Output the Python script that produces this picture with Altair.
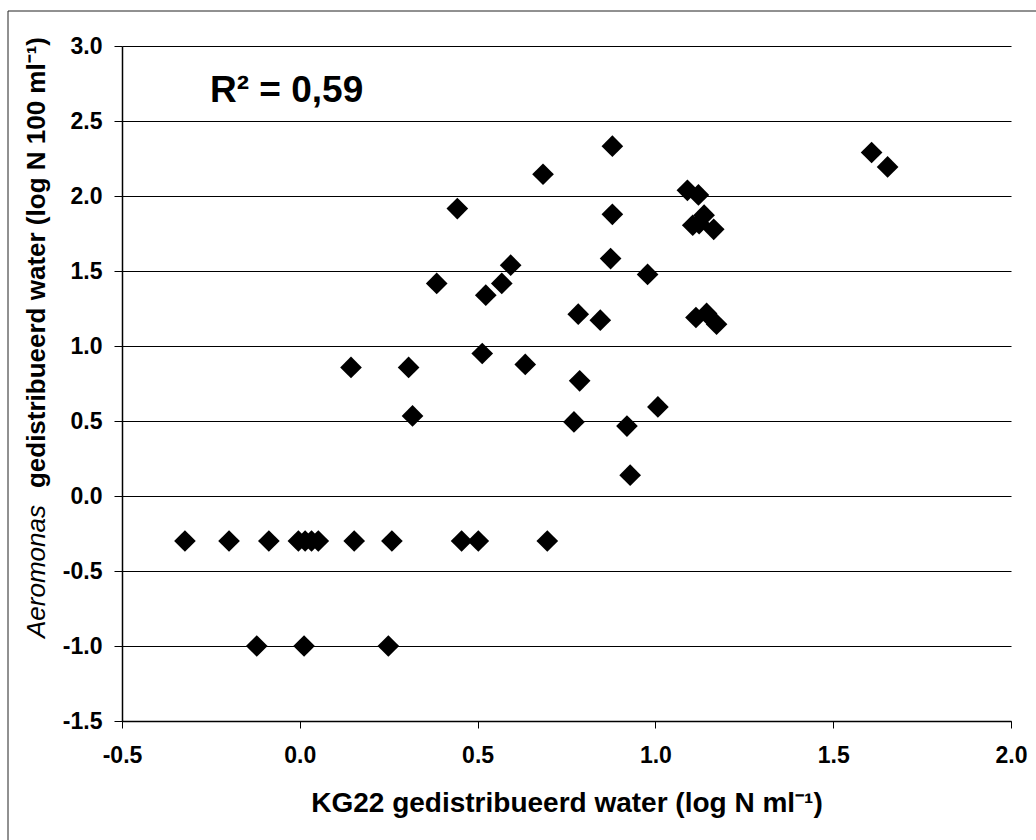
import altair as alt
import pandas as pd

# KG22 (log N/ml) values
kg22 = [-0.323, -0.199, -0.087, -0.004, 0.015, 0.033, 0.052, 0.153, 0.259, 0.455, 0.502, 0.696,
        -0.121, 0.012, 0.249,
        0.317, 0.144, 0.306, 0.443, 0.385, 0.523, 0.568, 0.593, 0.513, 0.879,
        0.684, 1.608, 1.653, 1.090, 1.121, 0.879, 1.137, 1.105, 1.123, 1.164,
        0.874, 0.978, 0.783, 0.845, 1.114, 1.144, 1.172, 0.634, 0.787, 1.007,
        0.771, 0.920, 0.929]
# Aeromonas (log N/100 ml) values
aeromonas = [-0.30, -0.30, -0.30, -0.30, -0.30, -0.30, -0.30, -0.30, -0.30, -0.30, -0.30, -0.30,
             -1.00, -1.00, -1.00,
             0.534, 0.857, 0.857, 1.916, 1.417, 1.339, 1.417, 1.539, 0.950, 2.332,
             2.145, 2.290, 2.194, 2.038, 2.007, 1.878, 1.872, 1.805, 1.816, 1.778,
             1.583, 1.477, 1.212, 1.172, 1.190, 1.217, 1.145, 0.877, 0.768, 0.594,
             0.494, 0.466, 0.139]

x_ticks = [-0.5, 0.0, 0.5, 1.0, 1.5, 2.0]
y_ticks = [-1.5, -1.0, -0.5, 0.0, 0.5, 1.0, 1.5, 2.0, 2.5, 3.0]

r2_text = "R² = 0,59"
x_title = "KG22 gedistribueerd water (log N ml⁻¹)"
y_title_italic = "Aeromonas"
y_title_bold = "gedistribueerd water (log N 100 ml⁻¹)"

FONT = "Liberation Sans"
label_expr = "(datum.value < 0 ? '-' : '') + format(abs(datum.value), '.1f')"

df = pd.DataFrame({"kg22": kg22, "aero": aeromonas})
one = pd.DataFrame({"d": [0]})

points = alt.Chart(df).mark_point(
    shape="diamond", filled=True, size=470, color="black", opacity=1
).encode(
    x=alt.X("kg22:Q",
            scale=alt.Scale(domain=[-0.5, 2.0], nice=False, zero=False),
            axis=alt.Axis(values=x_ticks, labelExpr=label_expr, grid=False,
                          labelFlush=False, labelOverlap=False,
                          labelFont=FONT, labelFontWeight="bold", labelFontSize=23,
                          labelColor="black", labelPadding=16,
                          tickSize=7, tickColor="black", tickWidth=1,
                          domainColor="black", domainWidth=1.5,
                          title=x_title, titleFont=FONT, titleFontWeight="bold",
                          titleFontSize=28, titleColor="black", titlePadding=22)),
    y=alt.Y("aero:Q",
            scale=alt.Scale(domain=[-1.5, 3.0], nice=False, zero=False),
            axis=alt.Axis(values=y_ticks, labelExpr=label_expr, grid=True,
                          labelFlush=False, labelOverlap=False,
                          gridColor="black", gridWidth=1, gridOpacity=1,
                          labelFont=FONT, labelFontWeight="bold", labelFontSize=23,
                          labelColor="black", labelPadding=12,
                          tickSize=8, tickColor="black", tickWidth=1,
                          domainColor="black", domainWidth=1.5, title="")),
)

r2 = alt.Chart(one).mark_text(
    text=r2_text, font=FONT, fontWeight="bold", fontSize=37, color="black",
    align="left", baseline="alphabetic"
).encode(x=alt.value(88), y=alt.value(56))

ytitle_it = alt.Chart(one).mark_text(
    text=y_title_italic, font=FONT, fontStyle="italic", fontSize=26, color="black",
    align="left", baseline="middle", angle=270
).encode(x=alt.value(-85), y=alt.value(592))

ytitle_b = alt.Chart(one).mark_text(
    text=y_title_bold, font=FONT, fontWeight="bold", fontSize=26, color="black",
    align="right", baseline="middle", angle=270
).encode(x=alt.value(-85), y=alt.value(-9))

frame = alt.Chart(one).mark_rect(
    fill="transparent", stroke="#222222", strokeWidth=1
).encode(x=alt.value(-114), y=alt.value(-35), x2=alt.value(930), y2=alt.value(810))

chart = alt.layer(frame, points, r2, ytitle_it, ytitle_b).properties(
    width=889, height=675,
    autosize=alt.AutoSizeParams(type="none"),
    padding={"left": 122, "top": 46, "right": 25, "bottom": 119},
    background="white",
).configure_view(strokeWidth=0)

chart.save("out.html", embed_options={"renderer": "svg", "actions": False})
